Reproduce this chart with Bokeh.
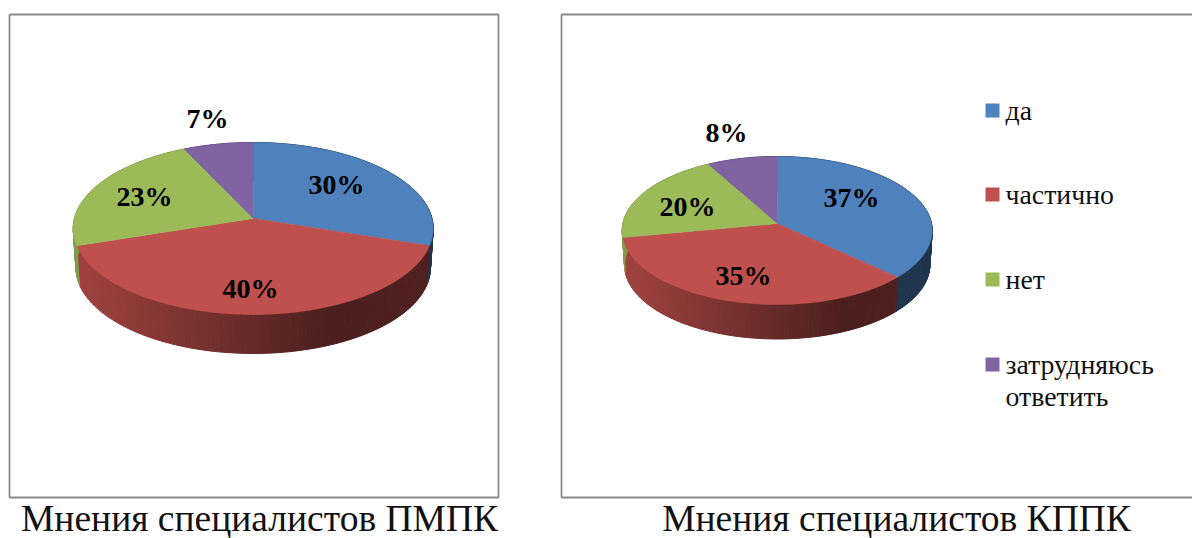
import numpy as np
from bokeh.core.properties import value
from bokeh.embed import file_html
from bokeh.models import Range1d
from bokeh.plotting import figure
from bokeh.resources import INLINE

categories = ["да", "частично", "нет", "затрудняюсь ответить"]
pmpk_values = [30, 40, 23, 7]
kppk_values = [37, 35, 20, 8]
colors = ["#4F81BD", "#C0504D", "#9BBB59", "#8064A2"]
titles = ["Мнения специалистов ПМПК", "Мнения специалистов КППК"]

WIDTH, HEIGHT = 1192, 538
SERIF = value("Liberation Serif")

p = figure(width=WIDTH, height=HEIGHT, output_backend="svg", toolbar_location=None,
           x_range=Range1d(0, WIDTH), y_range=Range1d(HEIGHT, 0),
           min_border=0, outline_line_color=None, background_fill_color="white",
           border_fill_color="white")
p.axis.visible = False
p.grid.visible = False


def shade(color, factor):
    rgb = [int(color[i:i + 2], 16) for i in (1, 3, 5)]
    return "#%02x%02x%02x" % tuple(int(c * factor) for c in rgb)


def rim(theta, cx, cy, rx, ry_back, ry_front):
    """Project a point on the tilted disc's edge; theta runs clockwise from the top."""
    k = (ry_front - ry_back) / (ry_front + ry_back)
    a = ry_front * (1 - k)
    b = rx * np.sqrt(1 - k * k)
    u, v = np.sin(theta), -np.cos(theta)
    d = 1 - k * v
    return cx + b * u / d, cy + a * v / d


def draw_pie(values, cx, cy, rx, ry_back, ry_front, depth):
    edges = np.radians(np.cumsum([0] + values) * 3.6)
    left, span = cx - rx, 2 * rx

    # Side wall: narrow strips, darkening from left to right
    xs, ys, cs = [], [], []
    for i, color in enumerate(colors):
        n = max(int(np.degrees(edges[i + 1] - edges[i]) / 1.2), 1)
        th = np.linspace(edges[i], edges[i + 1], n + 1)
        tx, ty = rim(th, cx, cy, rx, ry_back, ry_front)
        bx = cx + (tx - cx) * 0.985
        by = ty + depth
        for j in range(n):
            t = ((tx[j] + tx[j + 1]) / 2 - left) / span
            f = np.interp(t, [0, 0.72, 1], [0.84, 0.39, 0.42])
            xs.append([tx[j], tx[j + 1], bx[j + 1], bx[j]])
            ys.append([ty[j], ty[j + 1], by[j + 1], by[j]])
            cs.append(shade(color, f))
    p.patches(xs, ys, fill_color=cs, line_color=cs, line_width=1)

    # Top face
    for i, color in enumerate(colors):
        th = np.linspace(edges[i], edges[i + 1], 200)
        tx, ty = rim(th, cx, cy, rx, ry_back, ry_front)
        p.patch(np.r_[cx, tx], np.r_[cy, ty], fill_color=color, line_color=color, line_width=0.5)


def draw_labels(values, xs, ys):
    p.text(xs, ys, text=[f"{v}%" for v in values], text_font=SERIF, text_font_style="bold",
           text_font_size="28px", text_color="black", text_align="center", text_baseline="middle")


# Panel frames
p.line([9, 498, 498, 9, 9], [14, 14, 497, 497, 14], line_color="#8a8a8a", line_width=1.8)
p.line([1192, 561, 561, 1192], [14, 14, 497, 497], line_color="#8a8a8a", line_width=1.8)

draw_pie(pmpk_values, 252.7, 218, 180, 76, 96, 39)
draw_pie(kppk_values, 776.7, 223, 155, 67, 81, 34.5)

draw_labels(pmpk_values, [336, 250, 144, 207], [184, 288, 196, 118])
draw_labels(kppk_values, [851, 743, 687, 726], [197, 275, 206, 132])

# Legend
legend_tops = [103, 187, 272, 357]
legend_lines = [["да"], ["частично"], ["нет"], ["затрудняюсь", "ответить"]]
for top, color, lines in zip(legend_tops, colors, legend_lines):
    p.quad(left=985, right=999, top=top, bottom=top + 14, fill_color=color, line_color=None)
    for n, line in enumerate(lines):
        p.text([1005], [top + 7 + n * 32], text=[line], text_font=SERIF, text_font_size="27.8px",
               text_color="#111111", text_align="left", text_baseline="middle")

# Captions below the panels
p.text([259, 896], [518, 518], text=titles, text_font=SERIF, text_font_size="37.5px",
       text_color="#111111", text_align="center", text_baseline="middle")

open("out.html", "w").write(file_html(p, INLINE))
